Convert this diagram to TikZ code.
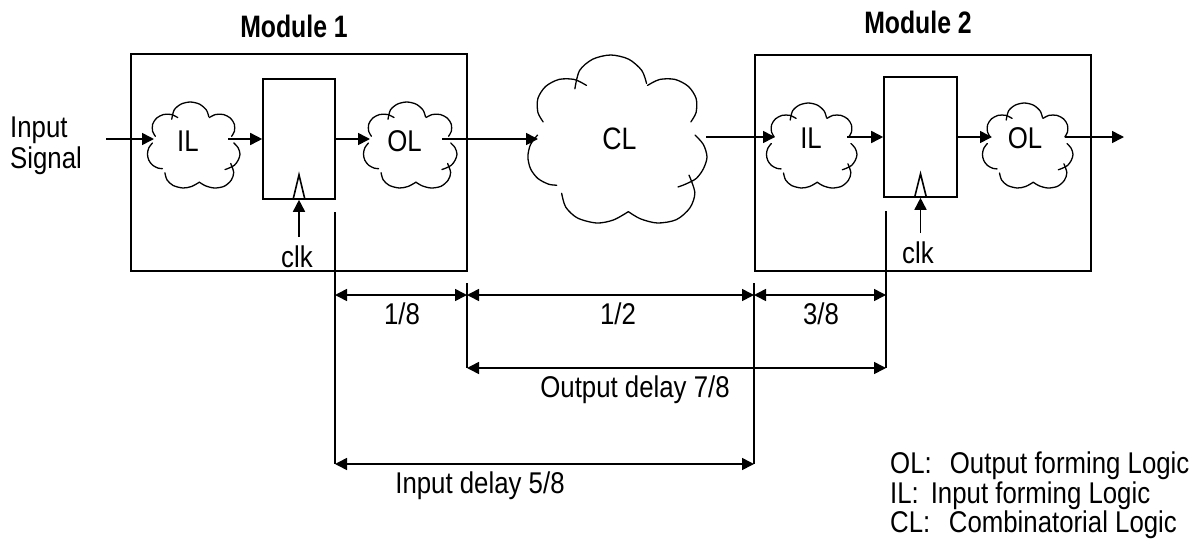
\documentclass[tikz,border=0pt]{standalone}
\usepackage{fontspec}
\setmainfont{Liberation Sans}[FakeStretch=0.86]
\newfontfamily\modfont{Liberation Sans}[FakeStretch=0.80]
\usetikzlibrary{arrows.meta}
\tikzset{
  line/.style={line width=1.6pt},
  box/.style={draw, line width=1.6pt, inner sep=0pt, rectangle},
  cloudline/.style={line width=1.3pt, line cap=round},
  cloudbox/.style={inner sep=0pt, rectangle},
  lbl/.style={inner sep=0pt, anchor=base, font=\fontsize{30}{30}\selectfont},
  modlbl/.style={inner sep=0pt, anchor=base, font=\modfont\bfseries\fontsize{31}{31}\selectfont},
  sig/.style={line width=1.6pt, -{Triangle[length=12pt,width=12pt]}},
  dim/.style={line width=1.6pt, {Triangle[length=12pt,width=12pt]}-{Triangle[length=12pt,width=12pt]}},
  vcloud/.pic={
    \draw[cloudline] plot[smooth] coordinates {(-0.468,0.598) (-0.416,0.815) (-0.27,0.95) (-0.07,1.0) (0.13,0.95) (0.276,0.815) (0.328,0.662)};
    \draw[cloudline] plot[smooth] coordinates {(-0.339,0.638) (-0.475,0.709) (-0.645,0.709) (-0.793,0.626) (-0.879,0.483) (-0.879,0.317) (-0.82,0.203)};
    \draw[cloudline] plot[smooth] coordinates {(-0.883,0.047) (-0.961,-0.066) (-0.99,-0.21) (-0.961,-0.354) (-0.879,-0.47) (-0.76,-0.538) (-0.669,-0.55)};
    \draw[cloudline] plot[smooth] coordinates {(-0.615,-0.646) (-0.57,-0.81) (-0.44,-0.94) (-0.226,-1.0) (-0.04,-0.964) (0.126,-0.865)};
    \draw[cloudline] plot[smooth] coordinates {(0.126,-0.865) (0.26,-0.95) (0.45,-1.0) (0.66,-0.96) (0.81,-0.82) (0.865,-0.64) (0.80,-0.43)};
    \draw[cloudline] plot[smooth] coordinates {(0.867,0.048) (0.96,-0.066) (1.0,-0.214) (0.96,-0.354) (0.88,-0.47) (0.76,-0.538) (0.678,-0.571)};
    \draw[cloudline] plot[smooth] coordinates {(0.339,0.638) (0.475,0.709) (0.645,0.709) (0.793,0.626) (0.879,0.483) (0.879,0.317) (0.82,0.203)};
  }
}
\begin{document}
\begin{tikzpicture}[x=1pt,y=-1pt]
\useasboundingbox (0,0) rectangle (1197,544);

% module boxes
\node[box, minimum width=336pt, minimum height=217pt] (mod1) at (299,162.5) {};
\node[box, minimum width=336pt, minimum height=216pt] (mod2) at (923,163) {};
\node[modlbl] (mod1t) at (294,37) {Module 1};
\node[modlbl] (mod2t) at (918,33) {Module 2};

% registers
\node[box, minimum width=72pt, minimum height=120pt] (reg1) at (299,139) {};
\node[box, minimum width=73pt, minimum height=120pt] (reg2) at (920.5,137) {};

% clock inputs
\draw[line] ([xshift=-6pt]reg1.south) -- ([yshift=25pt]reg1.south) -- ([xshift=6pt]reg1.south);
\draw[line] ([xshift=-6pt]reg2.south) -- ([yshift=24pt]reg2.south) -- ([xshift=6pt]reg2.south);
\coordinate (ck1) at (299,237);
\coordinate (ck2) at (920.5,233);
\draw[sig] (ck1) -- (reg1.south);
\draw[sig] (ck2) -- (reg2.south);
\node[lbl] (clk1) at (297,267) {clk};
\node[lbl] (clk2) at (918,263) {clk};

% clouds
\node[cloudbox, minimum width=93pt, minimum height=86pt] (il1) at (193.5,145) {};
\node[cloudbox, minimum width=94pt, minimum height=86pt] (ol1) at (410,145) {};
\node[cloudbox, minimum width=180pt, minimum height=168pt] (cl) at (617,139) {};
\node[cloudbox, minimum width=91pt, minimum height=85pt] (il2) at (811.5,145.5) {};
\node[cloudbox, minimum width=91pt, minimum height=85pt] (ol2) at (1027.5,145.5) {};
\pic[xscale=46.5, yscale=-43] at (il1.center) {vcloud};
\pic[xscale=47, yscale=-43] at (ol1.center) {vcloud};
\pic[xscale=90, yscale=-84] at (cl.center) {vcloud};
\pic[xscale=45.5, yscale=-42.5] at (il2.center) {vcloud};
\pic[xscale=45.5, yscale=-42.5] at (ol2.center) {vcloud};
\node[lbl] (il1t) at (188,151.5) {IL};
\node[lbl] (ol1t) at (404.5,151.5) {OL};
\node[lbl, font=\fontsize{31}{31}\selectfont] (clt) at (619.5,149) {CL};
\node[lbl] (il2t) at (811,148.3) {IL};
\node[lbl] (ol2t) at (1025,148.3) {OL};

% input text
\node[lbl, anchor=base west] (insig1) at (10,137) {Input};
\node[lbl, anchor=base west] (insig2) at (10,168) {Signal};

% signal path
\coordinate (p0) at (106,139);
\coordinate (il1i) at (154,139);
\coordinate (il1o) at (228,139);
\coordinate (ol1i) at (370,139);
\coordinate (ol1o) at (442,139);
\coordinate (cli) at (538,139);
\coordinate (clo) at (706,137);
\coordinate (il2i) at (775,137);
\coordinate (il2o) at (847,137);
\coordinate (ol2i) at (992,137);
\coordinate (ol2o) at (1065,137);
\coordinate (p1) at (1124,137);
\draw[sig] (p0) -- (il1i);
\draw[sig] (il1o) -- (reg1.west);
\draw[sig] (reg1.east) -- (ol1i);
\draw[sig] (ol1o) -- (cli);
\draw[sig] (clo) -- (il2i);
\draw[sig] (il2o) -- (reg2.west);
\draw[sig] (reg2.east) -- (ol2i);
\draw[sig] (ol2o) -- (p1);

% dimension lines
\coordinate (v1t) at (335,212); \coordinate (v1b) at (335,464);
\coordinate (v2t) at (467,283); \coordinate (v2b) at (467,368);
\coordinate (v3t) at (754,283); \coordinate (v3b) at (754,464);
\coordinate (v4t) at (886,211); \coordinate (v4b) at (886,368);
\coordinate (row1) at (0,295);
\coordinate (row2) at (0,368);
\coordinate (row3) at (0,464);
\draw[line] (v1t) -- (v1b);
\draw[line] (v2t) -- (v2b);
\draw[line] (v3t) -- (v3b);
\draw[line] (v4t) -- (v4b);
\draw[dim] (v1t |- row1) -- (v2t |- row1);
\draw[dim] (v2t |- row1) -- (v3t |- row1);
\draw[dim] (v3t |- row1) -- (v4t |- row1);
\draw[dim] (v2t |- row2) -- (v4t |- row2);
\draw[dim] (v1t |- row3) -- (v3t |- row3);
\node[lbl] (d1) at (402,324) {1/8};
\node[lbl] (d2) at (618,324) {1/2};
\node[lbl] (d3) at (821,324) {3/8};
\node[lbl] (d4) at (635,397) {Output delay 7/8};
\node[lbl] (d5) at (480,493) {Input delay 5/8};

% legend
\node[lbl, anchor=base west] (lg1) at (890,473) {\makebox[59.7pt][l]{OL:}Output forming Logic};
\node[lbl, anchor=base west] (lg2) at (890,503) {\makebox[40.6pt][l]{IL:}Input forming Logic};
\node[lbl, anchor=base west] (lg3) at (890,532) {\makebox[58.7pt][l]{CL:}Combinatorial Logic};
\end{tikzpicture}
\end{document}
